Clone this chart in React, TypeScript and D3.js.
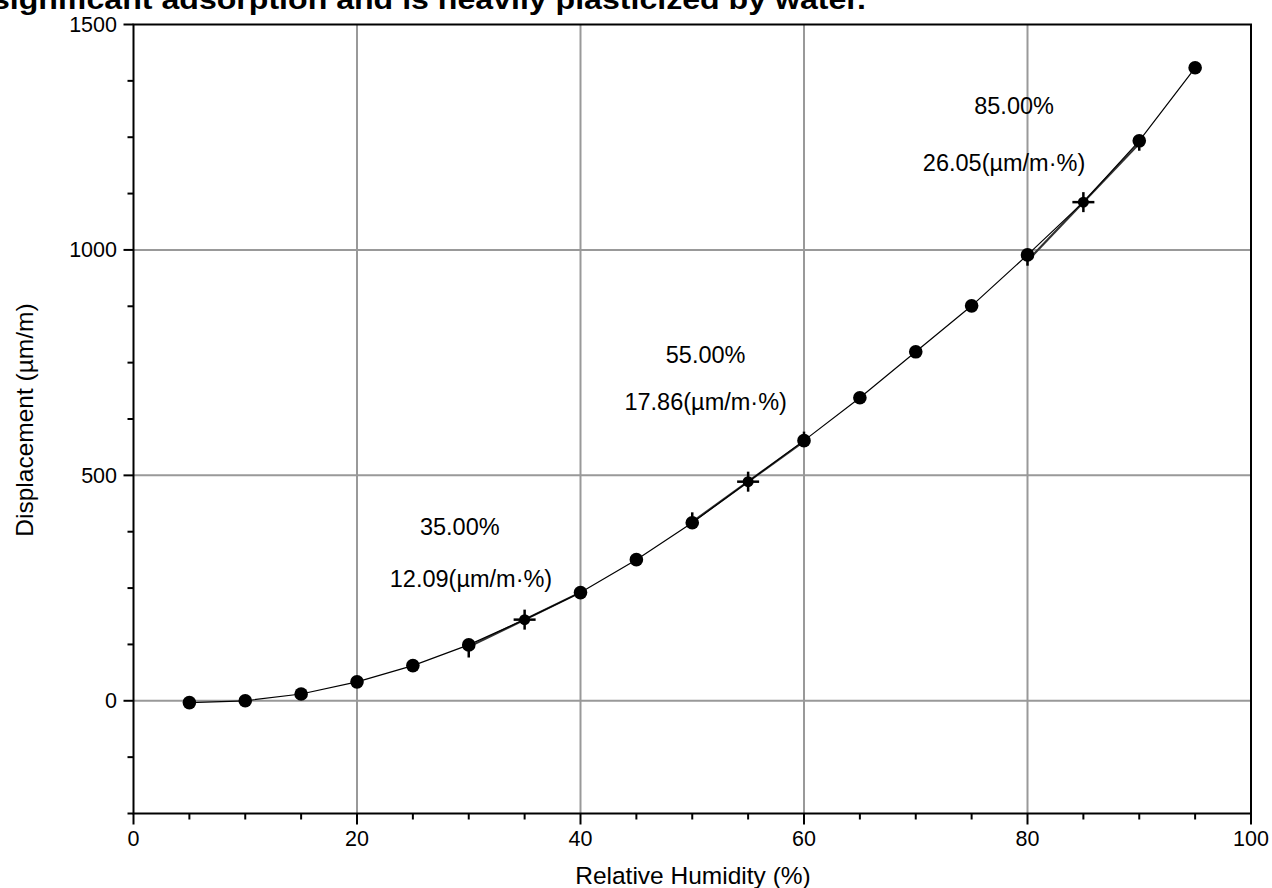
import React from 'react';
import * as d3 from 'd3';

// measured humidity steps and displacement (µm/m)
const humidity = [5, 10, 15, 20, 25, 30, 35, 40, 45, 50, 55, 60, 65, 70, 75, 80, 85, 90, 95];
const displacement = [-4, 0, 15, 42, 78, 124, 180, 240, 313, 395, 486, 577, 672, 774, 876, 989, 1106, 1242, 1404];
// small vertical error whiskers: [humidity, from, to]
const whiskers = [
  [30, 124, 96],
  [40, 240, 228],
  [50, 395, 418],
  [60, 577, 597],
  [80, 989, 965],
  [90, 1242, 1220],
];
// tangent points and their slopes
const tangentRH = [35, 55, 85];
const tangentValue = [180, 486, 1106];
const tangentSlope = [12.09, 17.86, 26.05];
// annotation anchor (data coords) for the two-line labels
const labelPctPos = [[29.2, 368], [51.2, 749], [78.8, 1302]];
const labelSlopePos = [[30.2, 252], [51.2, 645], [77.9, 1175]];

const xTicksMajor = [0, 20, 40, 60, 80, 100];
const yTicksMajor = [0, 500, 1000, 1500];
const gridX = [20, 40, 60, 80];
const gridY = [0, 500, 1000];

const W = 1272;
const H = 888;
const font = 'Arial, "Liberation Sans", sans-serif';

export default function App() {
  const x = d3.scaleLinear().domain([0, 100]).range([133.5, 1251]);
  const y = d3.scaleLinear().domain([-250, 1500]).range([813.5, 24.5]);
  const pts = humidity.map((h, i) => [h, displacement[i]] as [number, number]);
  const line = d3.line<[number, number]>().x(d => x(d[0])).y(d => y(d[1]));

  const xMinor = d3.range(0, 101, 5);
  const yMinor = d3.range(-250, 1501, 125);
  const [x0, x1] = x.range();
  const [yb, yt] = y.range();

  return (
    <svg width={W} height={H} style={{ position: 'absolute', left: 0, top: 0, background: '#fff' }}>
      <text x={-8} y={9} fontFamily={font} fontWeight="bold" fontSize={28} fill="#000"
        textLength={874} lengthAdjust="spacingAndGlyphs">
        significant adsorption and is heavily plasticized by water.
      </text>

      {/* grid */}
      {gridX.map(v => (
        <line key={'gx' + v} x1={x(v)} x2={x(v)} y1={yb} y2={yt} stroke="#999" strokeWidth={2} />
      ))}
      {gridY.map(v => (
        <line key={'gy' + v} x1={x0} x2={x1} y1={y(v)} y2={y(v)} stroke="#999" strokeWidth={2} />
      ))}

      {/* frame */}
      <rect x={x0} y={yt} width={x1 - x0} height={yb - yt} fill="none" stroke="#000" strokeWidth={2} />

      {/* ticks */}
      {xMinor.map(v => {
        const major = v % 20 === 0;
        return <line key={'xt' + v} x1={x(v)} x2={x(v)} y1={yb} y2={yb + (major ? 11 : 6)} stroke="#000" strokeWidth={2} />;
      })}
      {yMinor.map(v => {
        const major = v % 500 === 0;
        return <line key={'yt' + v} x1={x0} x2={x0 - (major ? 10 : 6)} y1={y(v)} y2={y(v)} stroke="#000" strokeWidth={2} />;
      })}
      {xTicksMajor.map(v => (
        <text key={'xl' + v} x={x(v)} y={846} textAnchor="middle" fontFamily={font} fontSize={21.5} fill="#000">{v}</text>
      ))}
      {yTicksMajor.map(v => (
        <text key={'yl' + v} x={117} y={y(v) + 7.5} textAnchor="end" fontFamily={font} fontSize={21.5} fill="#000">{v}</text>
      ))}

      <text x={693} y={884} textAnchor="middle" fontFamily={font} fontSize={24.5} fill="#000">Relative Humidity (%)</text>
      <text transform={`translate(33,420) rotate(-90)`} textAnchor="middle" fontFamily={font} fontSize={24.5} fill="#000">
        Displacement (µm/m)
      </text>

      {/* tangent segments */}
      {tangentRH.map((h, i) => {
        const a = h - 5, b = h + 5;
        return (
          <line key={'tg' + h}
            x1={x(a)} y1={y(tangentValue[i] - 5 * tangentSlope[i])}
            x2={x(b)} y2={y(tangentValue[i] + 5 * tangentSlope[i])}
            stroke="#333" strokeWidth={2.2} />
        );
      })}

      {/* curve */}
      <path d={line(pts) || ''} fill="none" stroke="#000" strokeWidth={1.2} />

      {/* whiskers */}
      {whiskers.map(([h, a, b]) => (
        <line key={'w' + h} x1={x(h)} x2={x(h)} y1={y(a)} y2={y(b)} stroke="#000" strokeWidth={2.5} />
      ))}

      {/* markers */}
      {pts.filter(p => !tangentRH.includes(p[0])).map(p => (
        <circle key={'c' + p[0]} cx={x(p[0])} cy={y(p[1])} r={6.8} fill="#000" />
      ))}
      {tangentRH.map((h, i) => (
        <g key={'p' + h} transform={`translate(${x(h)},${y(tangentValue[i])})`}>
          <circle r={5.5} fill="#000" />
          <line x1={-11} x2={11} y1={0} y2={0} stroke="#000" strokeWidth={2.5} />
          <line x1={0} x2={0} y1={-10} y2={10} stroke="#000" strokeWidth={2.5} />
        </g>
      ))}

      {/* annotations */}
      {tangentRH.map((h, i) => (
        <g key={'lab' + h}>
          <text x={x(labelPctPos[i][0])} y={y(labelPctPos[i][1])} textAnchor="middle" fontFamily={font} fontSize={23.5} fill="#000">
            {h.toFixed(2)}%
          </text>
          <text x={x(labelSlopePos[i][0])} y={y(labelSlopePos[i][1])} textAnchor="middle" fontFamily={font} fontSize={23.5} fill="#000">
            {tangentSlope[i].toFixed(2)}(µm/m·%)
          </text>
        </g>
      ))}
    </svg>
  );
}
